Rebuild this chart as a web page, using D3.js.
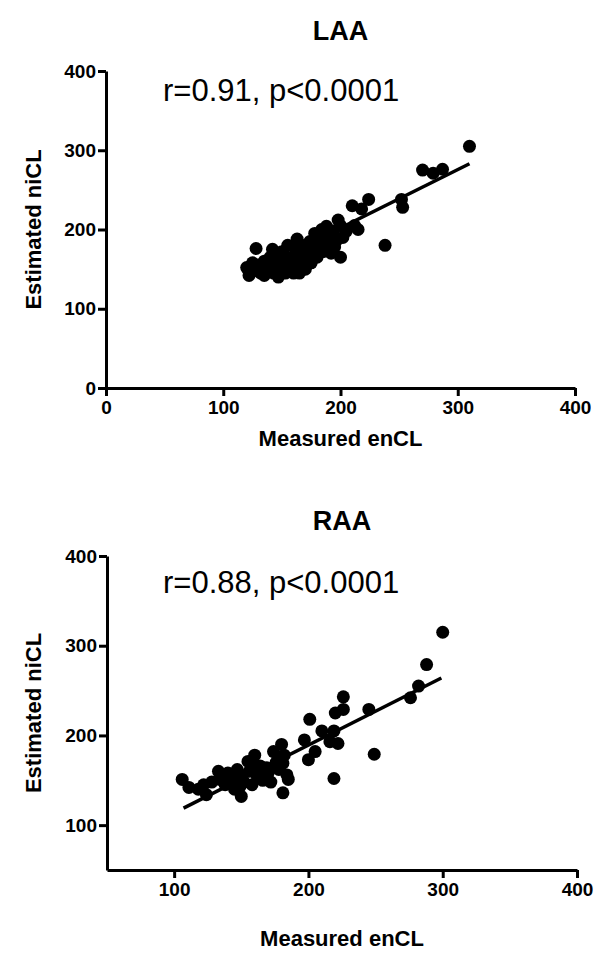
<!DOCTYPE html>
<html>
<head>
<meta charset="utf-8">
<script src="https://cdn.jsdelivr.net/npm/d3@7"></script>
<style>
  body { margin: 0; background: #fff; }
  svg text { font-family: "Liberation Sans", Arial, sans-serif; fill: #000; }
</style>
</head>
<body>
<div id="chart"></div>
<script>
// LAA panel: measured enCL vs estimated niCL
const laaX = [120, 122, 126, 128, 130, 132, 135, 137, 140, 142, 143, 145, 147, 148, 150, 152, 153, 155, 156, 158,
  160, 160, 162, 163, 165, 166, 168, 170, 170, 172, 174, 175, 176, 178, 180, 180, 182, 184, 186, 188,
  188, 190, 192, 194, 196, 198, 200, 200, 202, 205, 210, 212, 215, 218, 224, 238, 252, 253, 270, 279,
  287, 310, 135, 150, 165, 185, 195, 125, 145, 172];
const laaY = [152, 142, 148, 176, 155, 145, 160, 150, 165, 175, 145, 155, 140, 160, 150, 168, 145, 180, 158, 150,
  165, 145, 175, 188, 155, 170, 160, 180, 150, 168, 185, 158, 175, 195, 165, 185, 175, 200, 190, 180,
  204, 192, 170, 198, 185, 212, 165, 205, 190, 198, 230, 205, 200, 226, 238, 180, 238, 228, 275, 271,
  276, 305, 142, 172, 145, 172, 178, 158, 168, 158];
const laaFit = [[120, 143], [310, 283]];

// RAA panel
const raaX = [106, 111, 122, 124, 133, 134, 142, 147, 149, 150, 155, 160, 162, 169, 174, 180, 181, 184, 185, 181,
  197, 201, 200, 205, 210, 216, 222, 219, 220, 226, 226, 219, 249, 245, 276, 282, 288, 300,
  118, 128, 138, 140, 144, 152, 156, 158, 164, 166, 170, 176, 178, 150, 145, 172, 136, 182, 158];
const raaY = [151, 142, 145, 134, 160, 151, 154, 162, 143, 132, 171, 178, 154, 164, 182, 190, 169, 156, 151, 136,
  195, 218, 173, 182, 205, 193, 191, 152, 225, 229, 243, 205, 179, 229, 242, 255, 279, 315,
  140, 148, 145, 158, 150, 148, 160, 145, 166, 150, 158, 170, 162, 155, 140, 148, 155, 178, 168];
const raaFit = [[107, 119], [299, 264]];

const xTicksLaa = [0, 100, 200, 300, 400];
const yTicksLaa = [0, 100, 200, 300, 400];
const xTicksRaa = [100, 200, 300, 400];
const yTicksRaa = [100, 200, 300, 400];

const width = 597, height = 953;
const svg = d3.select("#chart").append("svg")
  .attr("width", width)
  .attr("height", height);

function panel(opts) {
  const x = d3.scaleLinear().domain(opts.xDomain).range(opts.xRange);
  const y = d3.scaleLinear().domain(opts.yDomain).range(opts.yRange);
  const g = svg.append("g");

  const xAxis = g.append("g")
    .attr("transform", `translate(0,${opts.yRange[0]})`)
    .call(d3.axisBottom(x).tickValues(opts.xTicks).tickSize(8).tickSizeOuter(0).tickPadding(5));
  const yAxis = g.append("g")
    .attr("transform", `translate(${opts.xRange[0]},0)`)
    .call(d3.axisLeft(y).tickValues(opts.yTicks).tickSize(8).tickSizeOuter(0).tickPadding(2));

  [xAxis, yAxis].forEach(a => {
    a.selectAll("path, line").attr("stroke", "#000").attr("stroke-width", 3);
    a.selectAll("text").attr("font-size", 19).attr("font-weight", "bold").attr("fill", "#000")
      .style("font-family", "'Liberation Sans', Arial, sans-serif");
  });

  const pts = opts.xs.map((v, i) => [v, opts.ys[i]]);
  g.append("g").selectAll("circle")
    .data(pts)
    .enter().append("circle")
    .attr("cx", d => x(d[0]))
    .attr("cy", d => y(d[1]))
    .attr("r", 6.5)
    .attr("fill", "#000");

  g.append("line")
    .attr("x1", x(opts.fit[0][0])).attr("y1", y(opts.fit[0][1]))
    .attr("x2", x(opts.fit[1][0])).attr("y2", y(opts.fit[1][1]))
    .attr("stroke", "#000")
    .attr("stroke-width", 3.5);

  const cx = (opts.xRange[0] + opts.xRange[1]) / 2;
  g.append("text")
    .attr("x", cx).attr("y", opts.titleY)
    .attr("text-anchor", "middle")
    .attr("font-size", 27).attr("font-weight", "bold")
    .text(opts.title);

  g.append("text")
    .attr("x", 163).attr("y", opts.statY)
    .attr("font-size", 31)
    .text(opts.stat);

  g.append("text")
    .attr("x", cx).attr("y", opts.xLabelY)
    .attr("text-anchor", "middle")
    .attr("font-size", 22).attr("font-weight", "bold")
    .text("Measured enCL");

  g.append("text")
    .attr("transform", `translate(41,${(opts.yRange[0] + opts.yRange[1]) / 2}) rotate(-90)`)
    .attr("text-anchor", "middle")
    .attr("font-size", 22).attr("font-weight", "bold")
    .text("Estimated niCL");
}

panel({
  xs: laaX, ys: laaY, fit: laaFit,
  xDomain: [0, 400], xRange: [106, 575],
  yDomain: [0, 400], yRange: [388, 71],
  xTicks: xTicksLaa, yTicks: yTicksLaa,
  title: "LAA", titleY: 40,
  stat: "r=0.91, p<0.0001", statY: 101,
  xLabelY: 446
});

panel({
  xs: raaX, ys: raaY, fit: raaFit,
  xDomain: [50, 400], xRange: [107, 577],
  yDomain: [50, 400], yRange: [870, 556],
  xTicks: xTicksRaa, yTicks: yTicksRaa,
  title: "RAA", titleY: 530,
  stat: "r=0.88, p<0.0001", statY: 593,
  xLabelY: 946
});
</script>
</body>
</html>
